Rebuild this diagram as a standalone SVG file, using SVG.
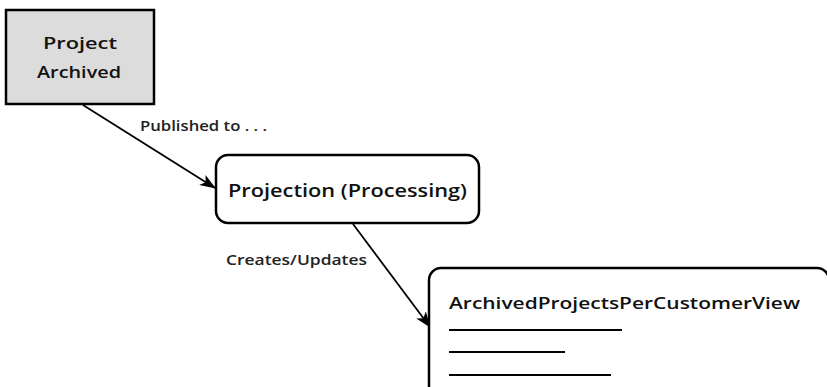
<svg xmlns="http://www.w3.org/2000/svg" width="827" height="387" viewBox="0 0 827 387">
<style>
  .box{stroke:#000;stroke-width:2.5;}
  .t{font-family:"Open Sans","DejaVu Sans",sans-serif;font-weight:600;fill:#111;}
  .edge{stroke:#000;stroke-width:1.8;fill:none;}
  .lbl{font-family:"Open Sans","DejaVu Sans",sans-serif;font-weight:600;font-size:13.5px;fill:#222;}
  .rule{stroke:#000;stroke-width:2;}
</style>
<defs>
  <marker id="arr" viewBox="0 0 16 12" refX="15" refY="6" markerWidth="16" markerHeight="12" markerUnits="userSpaceOnUse" orient="auto">
    <path d="M0,0 L16,6 L0,12 L4,6 Z" fill="#000"/>
  </marker>
</defs>
<rect width="827" height="387" fill="#fff"/>
<g id="connectors">
  <line class="edge" x1="83" y1="105" x2="215" y2="188" marker-end="url(#arr)"/>
  <text class="lbl" x="140" y="131" textLength="127" lengthAdjust="spacingAndGlyphs">Published to . . .</text>
  <line class="edge" x1="353" y1="224" x2="430" y2="327" marker-end="url(#arr)"/>
  <text class="lbl" x="226" y="265" textLength="141" lengthAdjust="spacingAndGlyphs">Creates/Updates</text>
</g>
<g id="project-archived">
  <rect class="box" x="6" y="10" width="148" height="94" fill="#dcdcdc"/>
  <text class="t" x="43" y="49" font-size="17" textLength="74" lengthAdjust="spacingAndGlyphs">Project</text>
  <text class="t" x="37" y="78" font-size="17" textLength="84" lengthAdjust="spacingAndGlyphs">Archived</text>
</g>
<g id="projection">
  <rect class="box" x="216" y="155" width="263" height="68" rx="12" fill="#fff"/>
  <text class="t" x="228" y="197" font-size="18" textLength="239" lengthAdjust="spacingAndGlyphs">Projection (Processing)</text>
</g>
<g id="view">
  <rect class="box" x="429" y="268" width="400" height="130" rx="12" fill="#fff"/>
  <text class="t" x="449" y="309" font-size="17" textLength="351" lengthAdjust="spacingAndGlyphs">ArchivedProjectsPerCustomerView</text>
  <line class="rule" x1="449" y1="330" x2="622" y2="330"/>
  <line class="rule" x1="449" y1="352" x2="565" y2="352"/>
  <line class="rule" x1="449" y1="375" x2="611" y2="375"/>
</g>
</svg>
